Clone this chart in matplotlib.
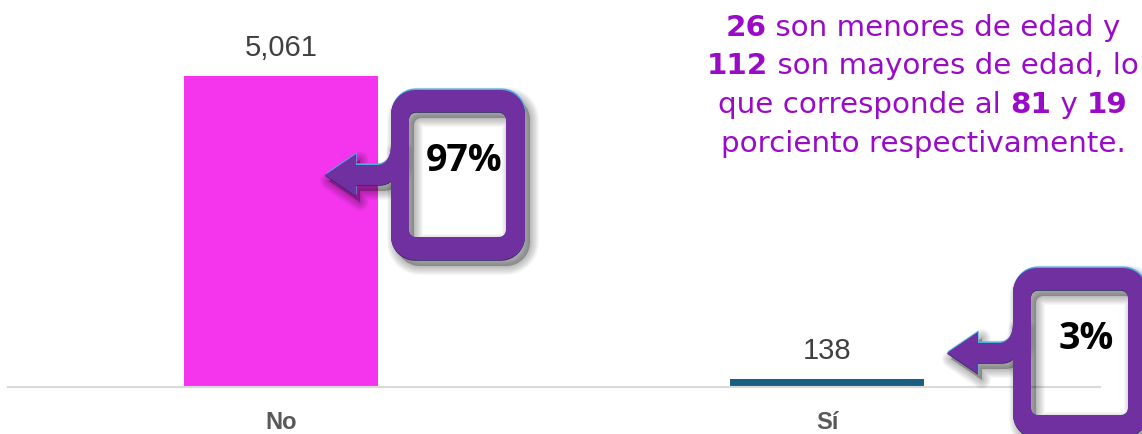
import numpy as np
import matplotlib.pyplot as plt
from matplotlib.path import Path
from matplotlib.patches import PathPatch

# data
categories = ["No", "Sí"]
values = [5061, 138]
bar_colors = ["#F535EE", "#1A5F82"]
pct_labels = ["97%", "3%"]

note_lines = [
    [("26", True), (" son menores de edad y", False)],
    [("112", True), (" son mayores de edad, lo", False)],
    [("que corresponde al ", False), ("81", True), (" y ", False), ("19", True)],
    [("porciento respectivamente.", False)],
]

PURPLE = "#7030A0"
NOTE = "#9A0BC8"

fig = plt.figure(figsize=(11.42, 4.34), dpi=100)
ax = fig.add_axes([8 / 1142, 1 - 387 / 434, 1092 / 1142, 387 / 434])
x = np.arange(len(categories))
bars = ax.bar(x, values, width=0.356, color=bar_colors, zorder=2)
ax.set_xlim(-0.5, 1.5)
ax.set_ylim(0, max(values) * 387 / 311)
ax.bar_label(bars, labels=[f"{v:,}" for v in values], padding=10,
             fontsize=21, color="#404040", family="Liberation Sans")
ax.set_xticks(x)
ax.set_xticklabels(categories, fontsize=17, fontweight="bold", color="#595959",
                   family="Liberation Sans")
ax.tick_params(axis="x", length=0, pad=17)
ax.set_yticks([])
for s in ["top", "left", "right"]:
    ax.spines[s].set_visible(False)
ax.spines["bottom"].set_color("#d9d9d9")
ax.spines["bottom"].set_linewidth(1.5)

# overlay in pixel coords for the callouts and the note
ov = fig.add_axes([0, 0, 1, 1], zorder=5)
ov.set_xlim(0, 1142)
ov.set_ylim(434, 0)
ov.axis("off")
ov.patch.set_alpha(0)


def rrect(x0, y0, w, h, r, n=10):
    pts = []
    cs = [(x0 + r, y0 + r, 180), (x0 + w - r, y0 + r, 270),
          (x0 + w - r, y0 + h - r, 0), (x0 + r, y0 + h - r, 90)]
    for cx, cy, a0 in cs:
        for a in np.linspace(a0, a0 + 90, n):
            t = np.radians(a)
            pts.append((cx + r * np.cos(t), cy + r * np.sin(t)))
    return pts


def ring_path(ox, oy, dx=0, dy=0, idx=None, idy=None):
    idx = dx if idx is None else idx
    idy = dy if idy is None else idy
    outer = rrect(ox + dx, oy + dy, 134, 170, 24)
    inner = rrect(ox + idx + 18, oy + idy + 22, 97, 125, 7)[::-1]
    verts = outer + [outer[0]] + inner + [inner[0]]
    codes = ([Path.MOVETO] + [Path.LINETO] * (len(outer) - 1) + [Path.CLOSEPOLY]
             + [Path.MOVETO] + [Path.LINETO] * (len(inner) - 1) + [Path.CLOSEPOLY])
    return Path(verts, codes)


def arrow_path(ox, oy, dx=0, dy=0):
    p = [(-66, 85), (-35, 64), (-35, 75), (-14, 75),
         (-6, 75), (0, 68), (0, 55), (9, 55), (9, 70),
         (6, 88), (0, 95), (-12, 95), (-35, 95), (-35, 106), (-66, 85)]
    verts = [(ox + dx + a, oy + dy + b) for a, b in p]
    codes = [Path.MOVETO, Path.LINETO, Path.LINETO, Path.LINETO,
             Path.CURVE4, Path.CURVE4, Path.CURVE4, Path.LINETO, Path.LINETO,
             Path.CURVE4, Path.CURVE4, Path.CURVE4, Path.LINETO, Path.LINETO,
             Path.CLOSEPOLY]
    return Path(verts, codes)


def callout(ox, oy, label):
    # soft shadow
    for d in range(9, 0, -1):
        for pth in (ring_path(ox, oy, 5, 6), arrow_path(ox, oy, 4, 6)):
            ov.add_patch(PathPatch(pth, facecolor="black", edgecolor="black",
                                   lw=2 * d * 0.72, alpha=0.03, joinstyle="round"))
    # highlight and body
    ov.add_patch(PathPatch(ring_path(ox, oy, 0.6, -1.6, 0, 0), facecolor="#4DB0E0",
                           edgecolor="none"))
    ov.add_patch(PathPatch(arrow_path(ox, oy, 0.6, -1.6), facecolor="#4DB0E0",
                           edgecolor="none"))
    for pth in (ring_path(ox, oy, 0, 0.8), arrow_path(ox, oy, 0, 0.8)):
        ov.add_patch(PathPatch(pth, facecolor="#2B2A66", edgecolor="none"))
    ov.add_patch(PathPatch(arrow_path(ox, oy), facecolor=PURPLE, edgecolor="none"))
    ov.add_patch(PathPatch(ring_path(ox, oy), facecolor=PURPLE, edgecolor="none"))
    ov.text(ox + 73, oy + 71, label, fontsize=27, fontweight="bold", color="black",
            family="Open Sans", ha="center", va="center")


callout(391, 90, pct_labels[0])
callout(1013, 268, pct_labels[1])

# rich text note, centred line by line
renderer = fig.canvas.get_renderer()
baselines = [36, 74.5, 113, 151.5]
for parts, yb in zip(note_lines, baselines):
    texts = []
    for s, b in parts:
        t = ov.text(0, yb, s, fontsize=21.2, fontweight="bold" if b else "normal",
                    color=NOTE, family="DejaVu Sans", va="baseline", ha="left")
        texts.append(t)
    widths = [t.get_window_extent(renderer).width for t in texts]
    xs = 923 - sum(widths) / 2
    for t, w in zip(texts, widths):
        t.set_x(xs)
        xs += w

fig.savefig("out.png", dpi=100)
